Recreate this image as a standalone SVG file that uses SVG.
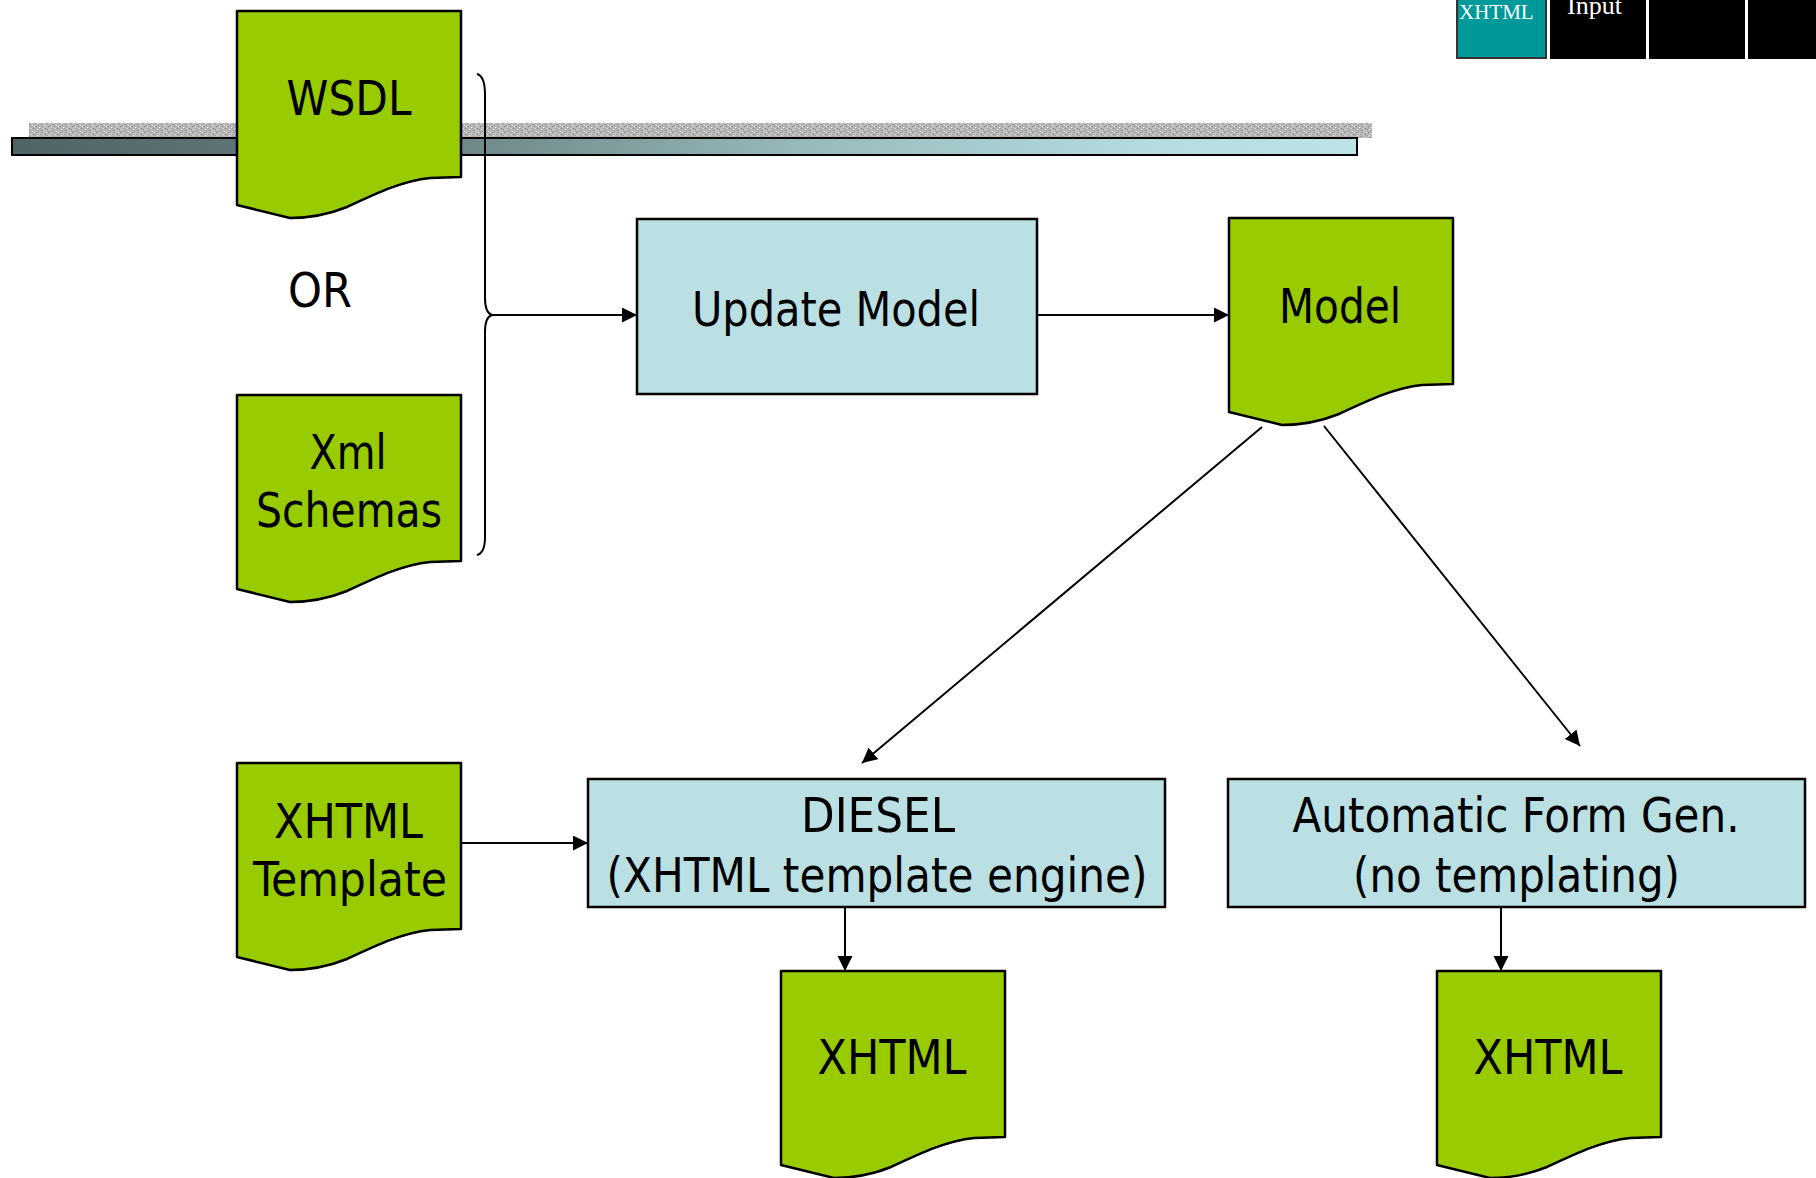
<svg xmlns="http://www.w3.org/2000/svg" width="1816" height="1178" viewBox="0 0 1816 1178">
<style>
.doc{fill:#99cc00;stroke:#000;stroke-width:2.5;stroke-linejoin:round}
.box{fill:#bbe0e3;stroke:#000;stroke-width:2.5}
.lbl{font-family:"DejaVu Sans Condensed","DejaVu Sans",Verdana,sans-serif;font-size:48px;fill:#000;text-anchor:middle}
.con{stroke:#000;stroke-width:2;fill:none}
.arr{marker-end:url(#ah)}
.tab{font-family:"Liberation Serif","Times New Roman",serif;fill:#fff}
</style>
<defs>
<marker id="ah" markerUnits="userSpaceOnUse" markerWidth="16" markerHeight="16" refX="15" refY="7.5" orient="auto">
<path d="M0,0 L15,7.5 L0,15 Z" fill="#000"/>
</marker>
<path id="docshape" d="M0,0 H224 V166 L193,167 C165,170 140,182 110,196 C90,204 72,207 53,207 L0,194 Z"/>
<pattern id="noise" width="12" height="6" patternUnits="userSpaceOnUse">
<rect width="12" height="6" fill="#b8b8b8"/>
<rect x="0" y="0" width="1" height="1" fill="#7a7a7a"/>
<rect x="3" y="1" width="1" height="1" fill="#e6e6e6"/>
<rect x="6" y="0" width="1" height="1" fill="#8c8c8c"/>
<rect x="9" y="2" width="1" height="1" fill="#707070"/>
<rect x="1" y="3" width="1" height="1" fill="#ececec"/>
<rect x="5" y="4" width="1" height="1" fill="#808080"/>
<rect x="8" y="5" width="1" height="1" fill="#e0e0e0"/>
<rect x="11" y="3" width="1" height="1" fill="#8a8a8a"/>
<rect x="2" y="5" width="1" height="1" fill="#909090"/>
<rect x="7" y="2" width="1" height="1" fill="#dcdcdc"/>
<rect x="10" y="0" width="1" height="1" fill="#d8d8d8"/>
<rect x="4" y="2" width="1" height="1" fill="#9a9a9a"/>
</pattern>
<linearGradient id="bargrad" x1="0" y1="0" x2="1" y2="0">
<stop offset="0" stop-color="#506464"/>
<stop offset="0.3" stop-color="#6a8080"/>
<stop offset="0.6" stop-color="#98bcbe"/>
<stop offset="0.85" stop-color="#b6dcdf"/>
<stop offset="1" stop-color="#bde3e6"/>
</linearGradient>
</defs>
<rect width="1816" height="1178" fill="#fff"/>

<g id="header">
<rect x="29" y="123" width="1343" height="15" fill="url(#noise)"/>
<rect x="12" y="138" width="1345" height="17" fill="url(#bargrad)" stroke="#000" stroke-width="2"/>
</g>

<g id="tabs">
<rect x="1457" y="-2" width="89" height="60" fill="#009999" stroke="#333" stroke-width="2"/>
<text class="tab" x="1459" y="19" font-size="21">XHTML</text>
<rect x="1550" y="0" width="96" height="59" fill="#000"/>
<text class="tab" x="1567" y="14" font-size="26">Input</text>
<rect x="1649" y="0" width="96" height="59" fill="#000"/>
<rect x="1748" y="0" width="68" height="59" fill="#000"/>
</g>

<g id="connectors">
<path class="con" d="M477,74 Q485,76 485,95 V298 Q485,313 492,315 Q485,317 485,332 V537 Q485,553 477,555"/>
<line class="con arr" x1="492" y1="315" x2="637" y2="315"/>
<line class="con arr" x1="1037" y1="315" x2="1229" y2="315"/>
<line class="con arr" x1="1262" y1="427" x2="862" y2="763"/>
<line class="con arr" x1="1324" y1="426" x2="1580" y2="746"/>
<line class="con arr" x1="461" y1="843" x2="588" y2="843"/>
<line class="con arr" x1="845" y1="907" x2="845" y2="971"/>
<line class="con arr" x1="1501" y1="907" x2="1501" y2="971"/>
</g>

<g id="wsdl">
<use href="#docshape" class="doc" x="237" y="11"/>
<text class="lbl" x="349" y="115" textLength="125" lengthAdjust="spacingAndGlyphs">WSDL</text>
</g>

<g id="or">
<text class="lbl" x="320" y="307" textLength="64" lengthAdjust="spacingAndGlyphs">OR</text>
</g>

<g id="xmlschemas">
<use href="#docshape" class="doc" x="237" y="395"/>
<text class="lbl" x="348" y="469" textLength="77" lengthAdjust="spacingAndGlyphs">Xml</text>
<text class="lbl" x="349" y="527" textLength="186" lengthAdjust="spacingAndGlyphs">Schemas</text>
</g>

<g id="updatemodel">
<rect class="box" x="637" y="219" width="400" height="175"/>
<text class="lbl" x="836" y="326" textLength="288" lengthAdjust="spacingAndGlyphs">Update Model</text>
</g>

<g id="model">
<use href="#docshape" class="doc" x="1229" y="218"/>
<text class="lbl" x="1340" y="323" textLength="122" lengthAdjust="spacingAndGlyphs">Model</text>
</g>

<g id="xhtmltemplate">
<use href="#docshape" class="doc" x="237" y="763"/>
<text class="lbl" x="348.5" y="838" textLength="149" lengthAdjust="spacingAndGlyphs">XHTML</text>
<text class="lbl" x="350" y="896" textLength="194" lengthAdjust="spacingAndGlyphs">Template</text>
</g>

<g id="diesel">
<rect class="box" x="588" y="779" width="577" height="128"/>
<text class="lbl" x="878" y="832" textLength="154" lengthAdjust="spacingAndGlyphs">DIESEL</text>
<text class="lbl" x="877" y="892" textLength="541" lengthAdjust="spacingAndGlyphs">(XHTML template engine)</text>
</g>

<g id="autoform">
<rect class="box" x="1228" y="779" width="577" height="128"/>
<text class="lbl" x="1516" y="832" textLength="447" lengthAdjust="spacingAndGlyphs">Automatic Form Gen.</text>
<text class="lbl" x="1516.5" y="892" textLength="327" lengthAdjust="spacingAndGlyphs">(no templating)</text>
</g>

<g id="xhtml1">
<use href="#docshape" class="doc" x="781" y="971"/>
<text class="lbl" x="892" y="1074" textLength="149" lengthAdjust="spacingAndGlyphs">XHTML</text>
</g>

<g id="xhtml2">
<use href="#docshape" class="doc" x="1437" y="971"/>
<text class="lbl" x="1548" y="1074" textLength="149" lengthAdjust="spacingAndGlyphs">XHTML</text>
</g>
</svg>
